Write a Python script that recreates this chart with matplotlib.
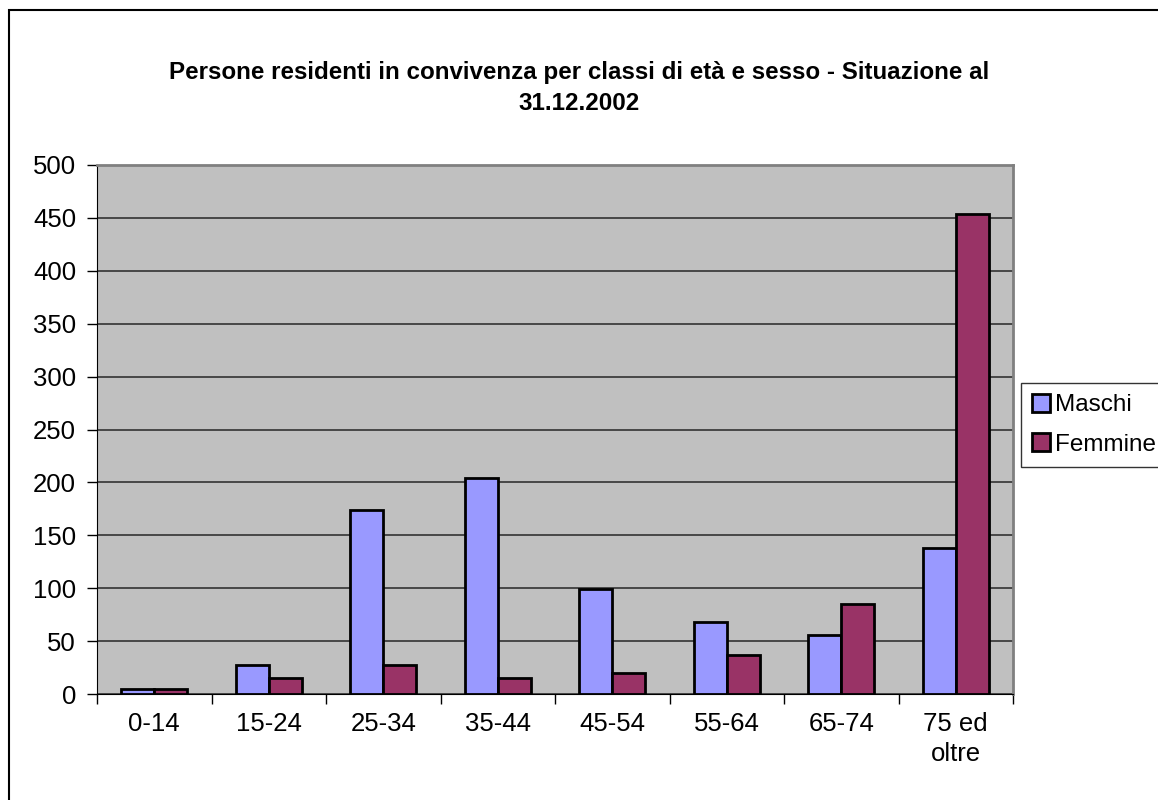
import numpy as np
import matplotlib.pyplot as plt
from matplotlib.patches import Rectangle

plt.rcParams['font.family'] = ['Liberation Sans', 'DejaVu Sans']

classi = ['0-14', '15-24', '25-34', '35-44', '45-54', '55-64', '65-74', '75 ed\noltre']
maschi = [5, 27, 174, 204, 99, 68, 56, 138]
femmine = [5, 15, 27, 15, 20, 37, 85, 454]

fig = plt.figure(figsize=(11.58, 8), dpi=100)
ax = fig.add_axes([97 / 1158, 1 - 694 / 800, (1013 - 97) / 1158, (694 - 165) / 800])

x = np.arange(len(classi))
w = 0.29
ax.bar(x - w / 2, maschi, width=w, color='#9999FF', edgecolor='black', linewidth=2, label='Maschi', zorder=3)
ax.bar(x + w / 2, femmine, width=w, color='#993366', edgecolor='black', linewidth=2, label='Femmine', zorder=3)

ax.set_facecolor('#C0C0C0')
ax.set_xlim(-0.5, len(classi) - 0.5)
ax.set_ylim(0, 500)
ax.set_yticks(range(0, 501, 50))
ax.yaxis.grid(True, color='#333333', linewidth=1.2, zorder=1)

# ticks at category boundaries, labels centered
ax.set_xticks(np.arange(len(classi) + 1) - 0.5)
ax.set_xticklabels([])
ax.set_xticks(x, minor=True)
ax.set_xticklabels(classi, minor=True, fontsize=18.5, linespacing=1.3)
ax.tick_params(axis='x', which='minor', length=0, pad=13)
ax.tick_params(axis='x', which='major', length=7, width=1, color='black')
ax.tick_params(axis='y', length=7, width=1, labelsize=18.5, pad=8)

for s in ['top', 'right']:
    ax.spines[s].set_color('#808080')
    ax.spines[s].set_linewidth(2)
ax.spines['left'].set_color('black')
ax.spines['bottom'].set_color('black')

fig.text(0.5, 1 - 72 / 800, 'Persone residenti in convivenza per classi di età e sesso - Situazione al',
         ha='center', va='center', fontsize=17.4, fontweight='bold')
fig.text(0.5, 1 - 103 / 800, '31.12.2002', ha='center', va='center', fontsize=17.4, fontweight='bold')

leg = fig.legend(loc='upper left', bbox_to_anchor=(1021 / 1158, 1 - 383 / 800), fontsize=17.5,
                 frameon=True, fancybox=False, edgecolor='black', handlelength=0.75, handleheight=0.75,
                 handletextpad=0.2, borderpad=0.45, labelspacing=0.7, borderaxespad=0)
leg.get_frame().set_linewidth(1)

# outer chart border (runs off the right and bottom edges)
fig.patches.append(Rectangle((9 / 1158, -0.1), 1.2, 1 - 10 / 800 + 0.1, transform=fig.transFigure,
                             fill=False, edgecolor='black', linewidth=1.5))

fig.savefig('out.png', dpi=100)
